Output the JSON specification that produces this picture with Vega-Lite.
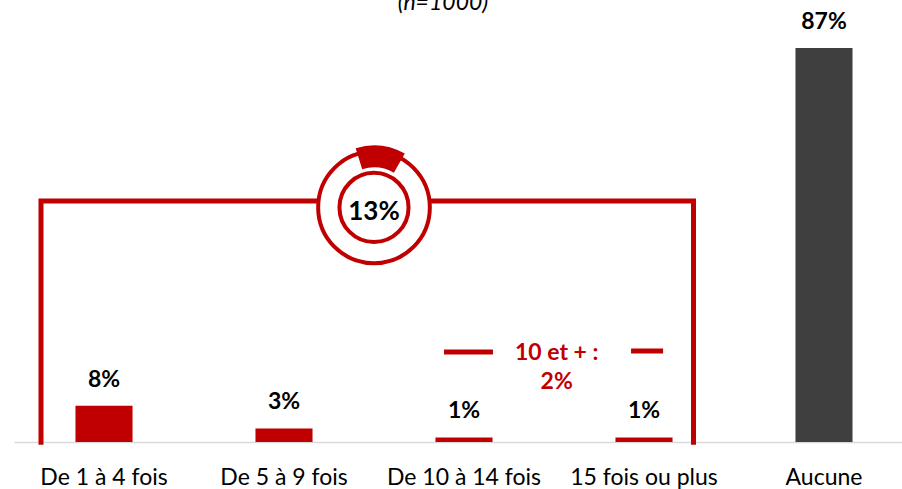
{
  "$schema": "https://vega.github.io/schema/vega-lite/v6.json",
  "autosize": {"type": "none"},
  "padding": {"left": 14, "top": 0, "right": 0, "bottom": 47},
  "width": 900,
  "height": 442,
  "config": {"view": {"stroke": null}, "font": "Lato"},
  "datasets": {
    "bars": [
      {"categorie": "De 1 à 4 fois", "pct": 8, "etiquette": "8%", "groupe": "fois"},
      {"categorie": "De 5 à 9 fois", "pct": 3, "etiquette": "3%", "groupe": "fois"},
      {"categorie": "De 10 à 14 fois", "pct": 1, "etiquette": "1%", "groupe": "fois"},
      {"categorie": "15 fois ou plus", "pct": 1, "etiquette": "1%", "groupe": "fois"},
      {"categorie": "Aucune", "pct": 87, "etiquette": "87%", "groupe": "aucune"}
    ],
    "bracket": [
      {"x": 0.15, "y": -0.6, "ordre": 1},
      {"x": 0.15, "y": 53.2, "ordre": 2},
      {"x": 3.775, "y": 53.2, "ordre": 3},
      {"x": 3.775, "y": -0.6, "ordre": 4}
    ],
    "traits": [
      {"x": 2.389, "x2": 2.661, "y": 19.9},
      {"x": 3.428, "x2": 3.606, "y": 20.1}
    ],
    "donut": [{"x": 2.0, "y": 51.8, "label": "13%"}],
    "notes": [
      {"x": 3.015, "y": 19.7, "texte": "10 et + :\n2%"}
    ],
    "titre": [{"x": 2.383, "y": 95.3, "texte": "(n=1000)"}]
  },
  "resolve": {"scale": {"x": "independent"}},
  "layer": [
    {
      "data": {"name": "bars"},
      "encoding": {
        "x": {
          "field": "categorie", "type": "nominal", "sort": null,
          "scale": {"paddingInner": 0.683, "paddingOuter": 0.3415},
          "axis": {
            "title": null, "labelAngle": 0, "ticks": false,
            "domainColor": "#d9d9d9", "domainWidth": 1.5,
            "labelFontSize": 23, "labelFont": "Lato", "labelColor": "#000000",
            "labelPadding": 24
          }
        },
        "y": {"field": "pct", "type": "quantitative", "scale": {"domain": [0, 97.6]}, "axis": null}
      },
      "layer": [
        {
          "mark": {"type": "bar"},
          "encoding": {
            "color": {"field": "groupe", "type": "nominal", "scale": {"domain": ["fois", "aucune"], "range": ["#C00000", "#3F3F3F"]}, "legend": null}
          }
        },
        {
          "mark": {"type": "text", "fontWeight": "bold", "fontSize": 23, "dy": -19, "baseline": "alphabetic", "color": "#000000"},
          "encoding": {"text": {"field": "etiquette"}}
        }
      ]
    },
    {
      "data": {"name": "bracket"},
      "mark": {"type": "line", "color": "#C00000", "strokeWidth": 5, "strokeJoin": "miter", "strokeCap": "butt"},
      "encoding": {
        "x": {"field": "x", "type": "quantitative", "scale": {"domain": [0, 5]}, "axis": null},
        "y": {"field": "y", "type": "quantitative", "scale": {"domain": [0, 97.6]}, "axis": null},
        "order": {"field": "ordre"}
      }
    },
    {
      "data": {"name": "traits"},
      "mark": {"type": "rule", "color": "#C00000", "strokeWidth": 5},
      "encoding": {
        "x": {"field": "x", "type": "quantitative", "scale": {"domain": [0, 5]}, "axis": null},
        "x2": {"field": "x2"},
        "y": {"field": "y", "type": "quantitative", "scale": {"domain": [0, 97.6]}, "axis": null}
      }
    },
    {
      "data": {"name": "donut"},
      "encoding": {
        "x": {"field": "x", "type": "quantitative", "scale": {"domain": [0, 5]}, "axis": null},
        "y": {"field": "y", "type": "quantitative", "scale": {"domain": [0, 97.6]}, "axis": null}
      },
      "layer": [
        {"mark": {"type": "point", "shape": "circle", "size": 12469, "filled": true, "fill": "#ffffff", "stroke": "#C00000", "strokeWidth": 4, "opacity": 1}},
        {"mark": {"type": "arc", "theta": -0.3, "theta2": 0.52, "radius": 62, "radius2": 40, "color": "#C00000"}},
        {"mark": {"type": "point", "shape": "circle", "size": 4778, "filled": true, "fill": "#ffffff", "stroke": "#C00000", "strokeWidth": 4, "opacity": 1}},
        {"mark": {"type": "text", "fontWeight": "bold", "fontSize": 26, "dy": 5, "color": "#000000"}, "encoding": {"text": {"field": "label"}}}
      ]
    },
    {
      "data": {"name": "notes"},
      "mark": {"type": "text", "fontWeight": "bold", "fontSize": 23, "color": "#C00000", "lineBreak": "\n", "lineHeight": 29, "baseline": "middle"},
      "encoding": {
        "x": {"field": "x", "type": "quantitative", "scale": {"domain": [0, 5]}, "axis": null},
        "y": {"field": "y", "type": "quantitative", "scale": {"domain": [0, 97.6]}, "axis": null},
        "text": {"field": "texte"}
      }
    },
    {
      "data": {"name": "titre"},
      "mark": {"type": "text", "fontStyle": "italic", "fontSize": 23, "color": "#000000", "baseline": "alphabetic"},
      "encoding": {
        "x": {"field": "x", "type": "quantitative", "scale": {"domain": [0, 5]}, "axis": null},
        "y": {"field": "y", "type": "quantitative", "scale": {"domain": [0, 97.6]}, "axis": null},
        "text": {"field": "texte"}
      }
    }
  ]
}
